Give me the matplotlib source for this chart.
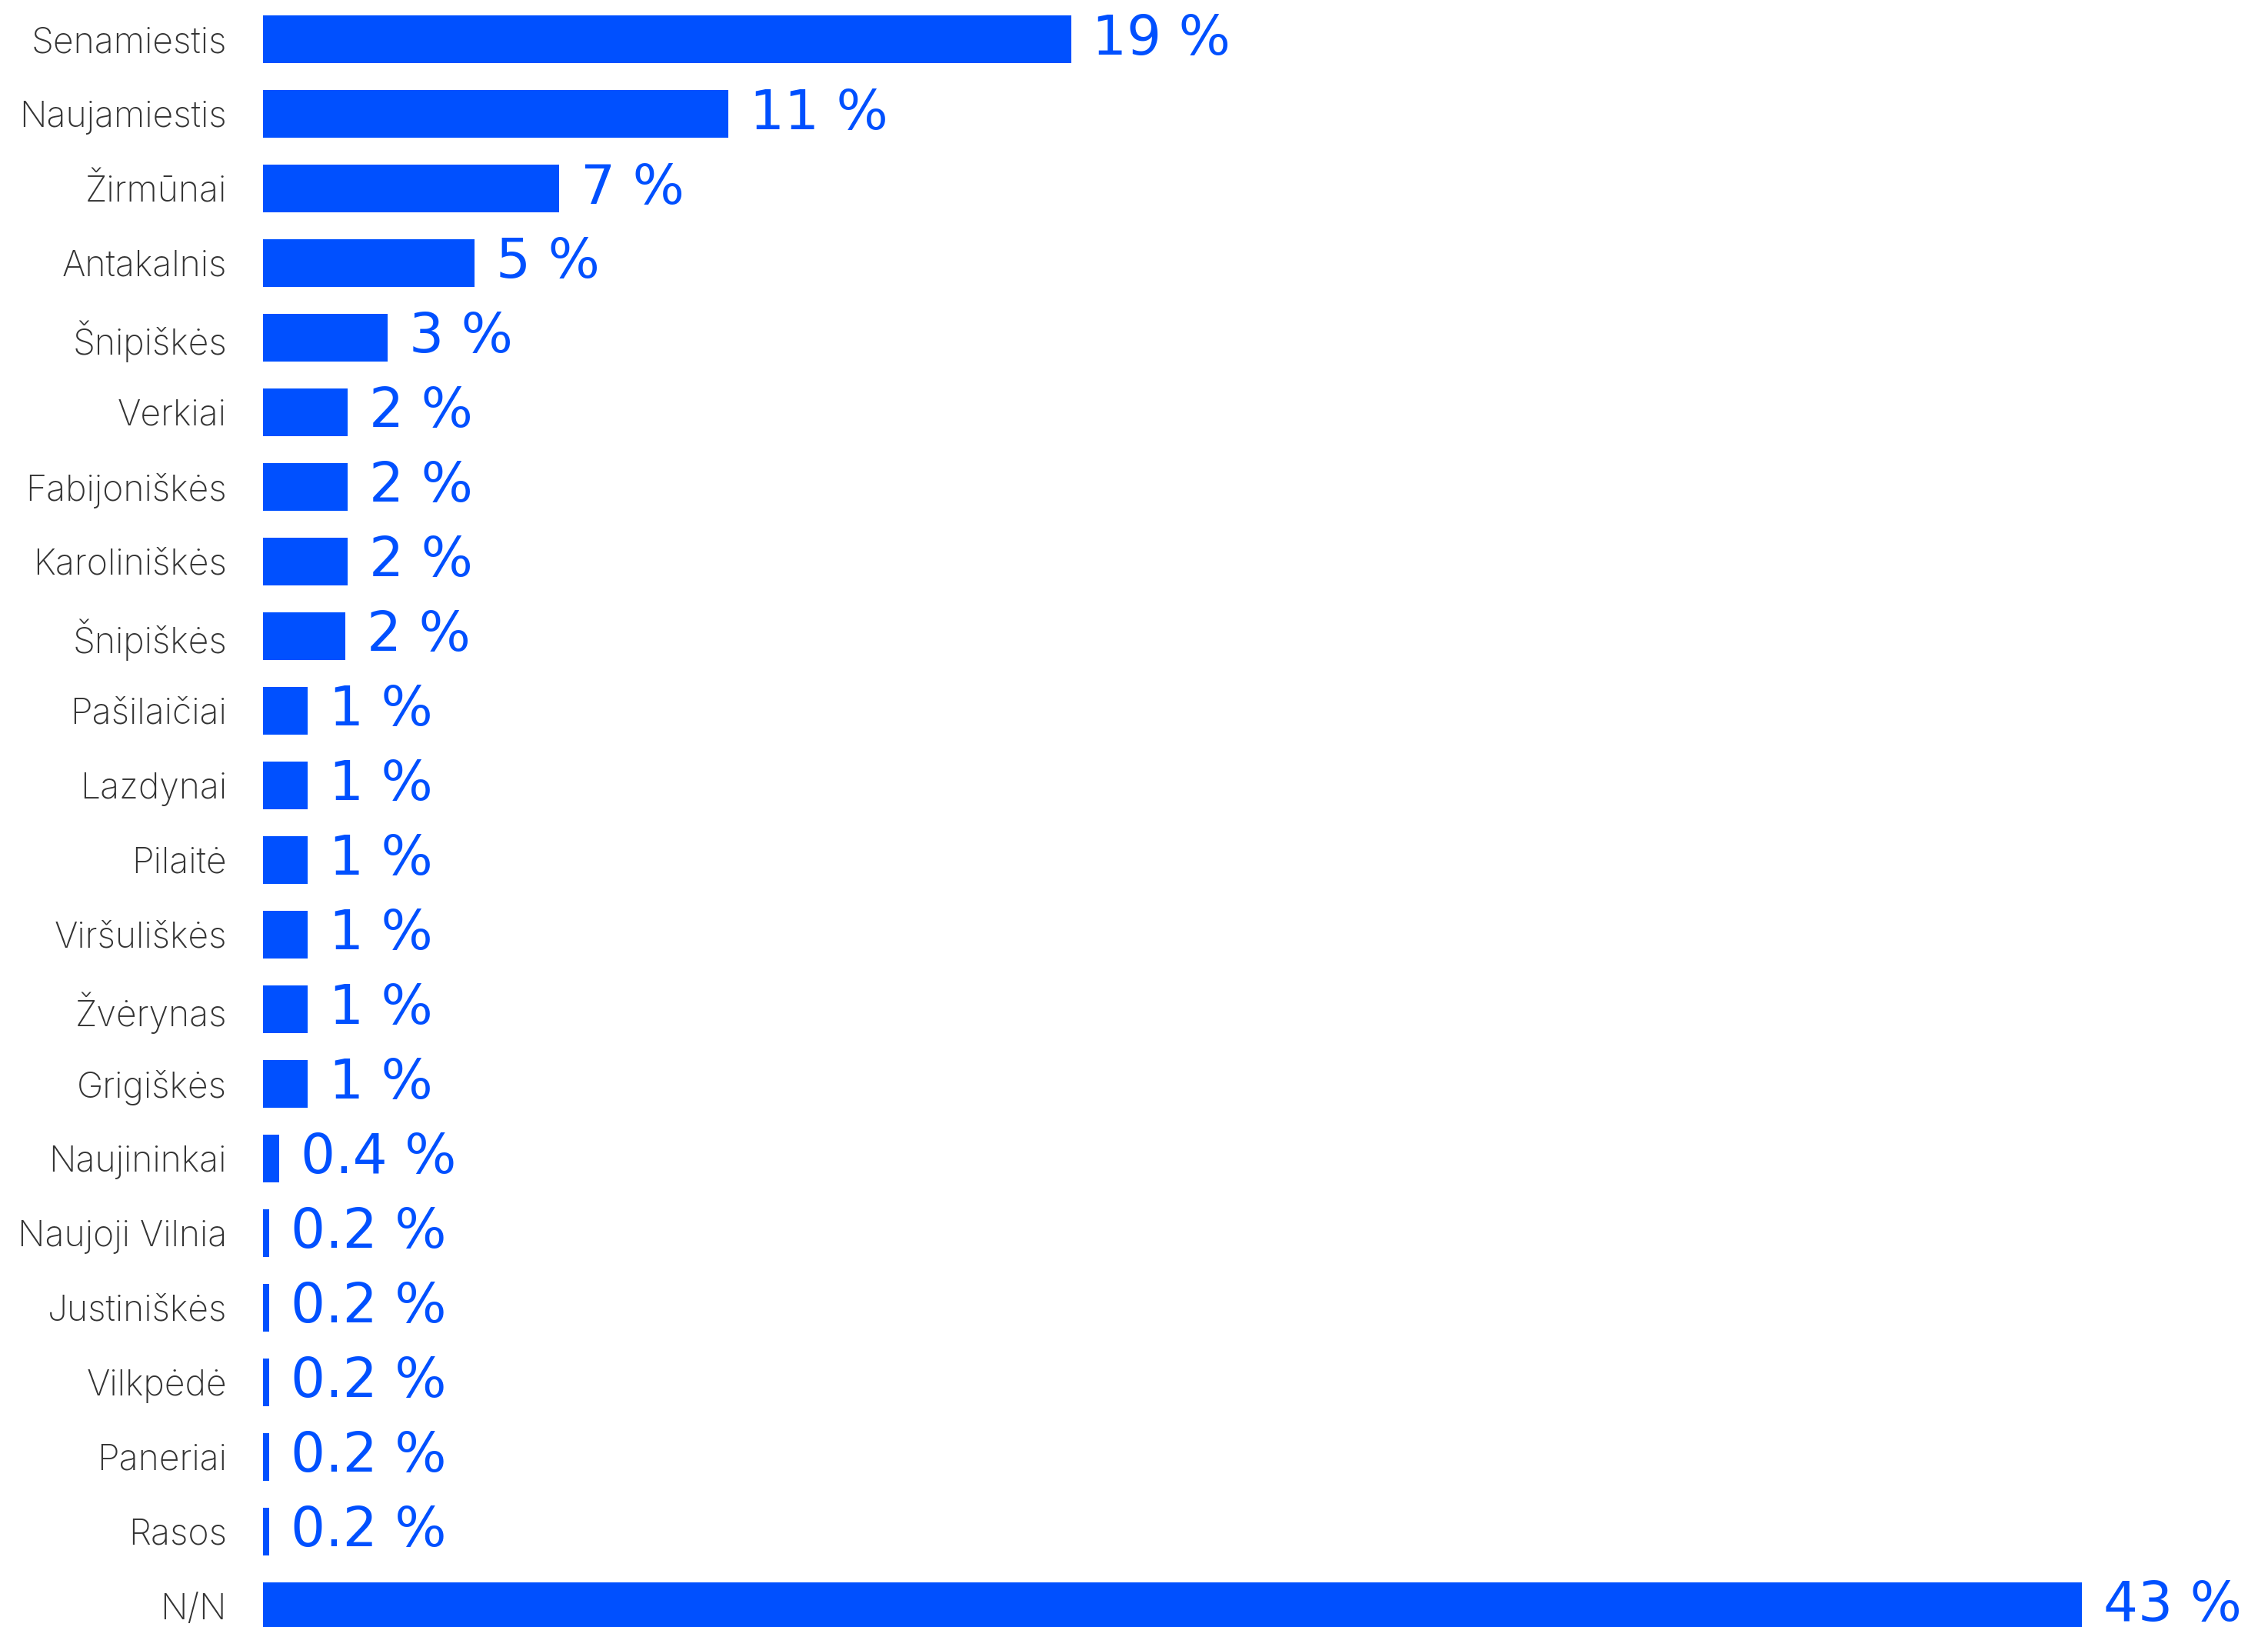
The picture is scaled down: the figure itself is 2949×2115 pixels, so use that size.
import matplotlib
matplotlib.use("Agg")
import matplotlib.pyplot as plt

# districts, top to bottom
districts = ["Senamiestis", "Naujamiestis", "Žirmūnai", "Antakalnis", "Šnipiškės",
             "Verkiai", "Fabijoniškės", "Karoliniškės", "Šnipiškės", "Pašilaičiai",
             "Lazdynai", "Pilaitė", "Viršuliškės", "Žvėrynas", "Grigiškės",
             "Naujininkai", "Naujoji Vilnia", "Justiniškės", "Vilkpėdė", "Paneriai",
             "Rasos", "N/N"]
# bar lengths (percent)
shares = [19.1, 11.0, 7.0, 5.0, 2.95, 2.0, 2.0, 2.0, 1.95, 1.05,
          1.05, 1.05, 1.05, 1.05, 1.05, 0.38, 0.15, 0.15, 0.15, 0.15,
          0.15, 43.0]
# printed labels
labels = ["19", "11", "7", "5", "3", "2", "2", "2", "2", "1",
          "1", "1", "1", "1", "1", "0.4", "0.2", "0.2", "0.2", "0.2",
          "0.2", "43"]

blue = "#0050ff"

fig = plt.figure(figsize=(14.745, 10.575), dpi=200)
ax = fig.add_axes([0.116, 0.0, 0.884, 1.0])

y = list(range(len(districts)))
bars = ax.barh(y, shares, height=0.64, color=blue)

for yi, v, lab in zip(y, shares, labels):
    ax.annotate(lab + " %", xy=(v, yi), xytext=(10, 0), textcoords="offset points",
                ha="left", va="center", color=blue, fontsize=25.5,
                family="DejaVu Sans")

ax.set_xlim(0, 47.4)
ax.set_ylim(21.28, -0.526)
ax.set_yticks(y)
ax.set_yticklabels(districts, fontsize=16.7, color="#333333",
                   family=["Inter", "DejaVu Sans"], fontweight="light")
ax.tick_params(axis="y", length=0, pad=17)
ax.set_xticks([])
for s in ax.spines.values():
    s.set_visible(False)

fig.savefig("out.png", dpi=200)
